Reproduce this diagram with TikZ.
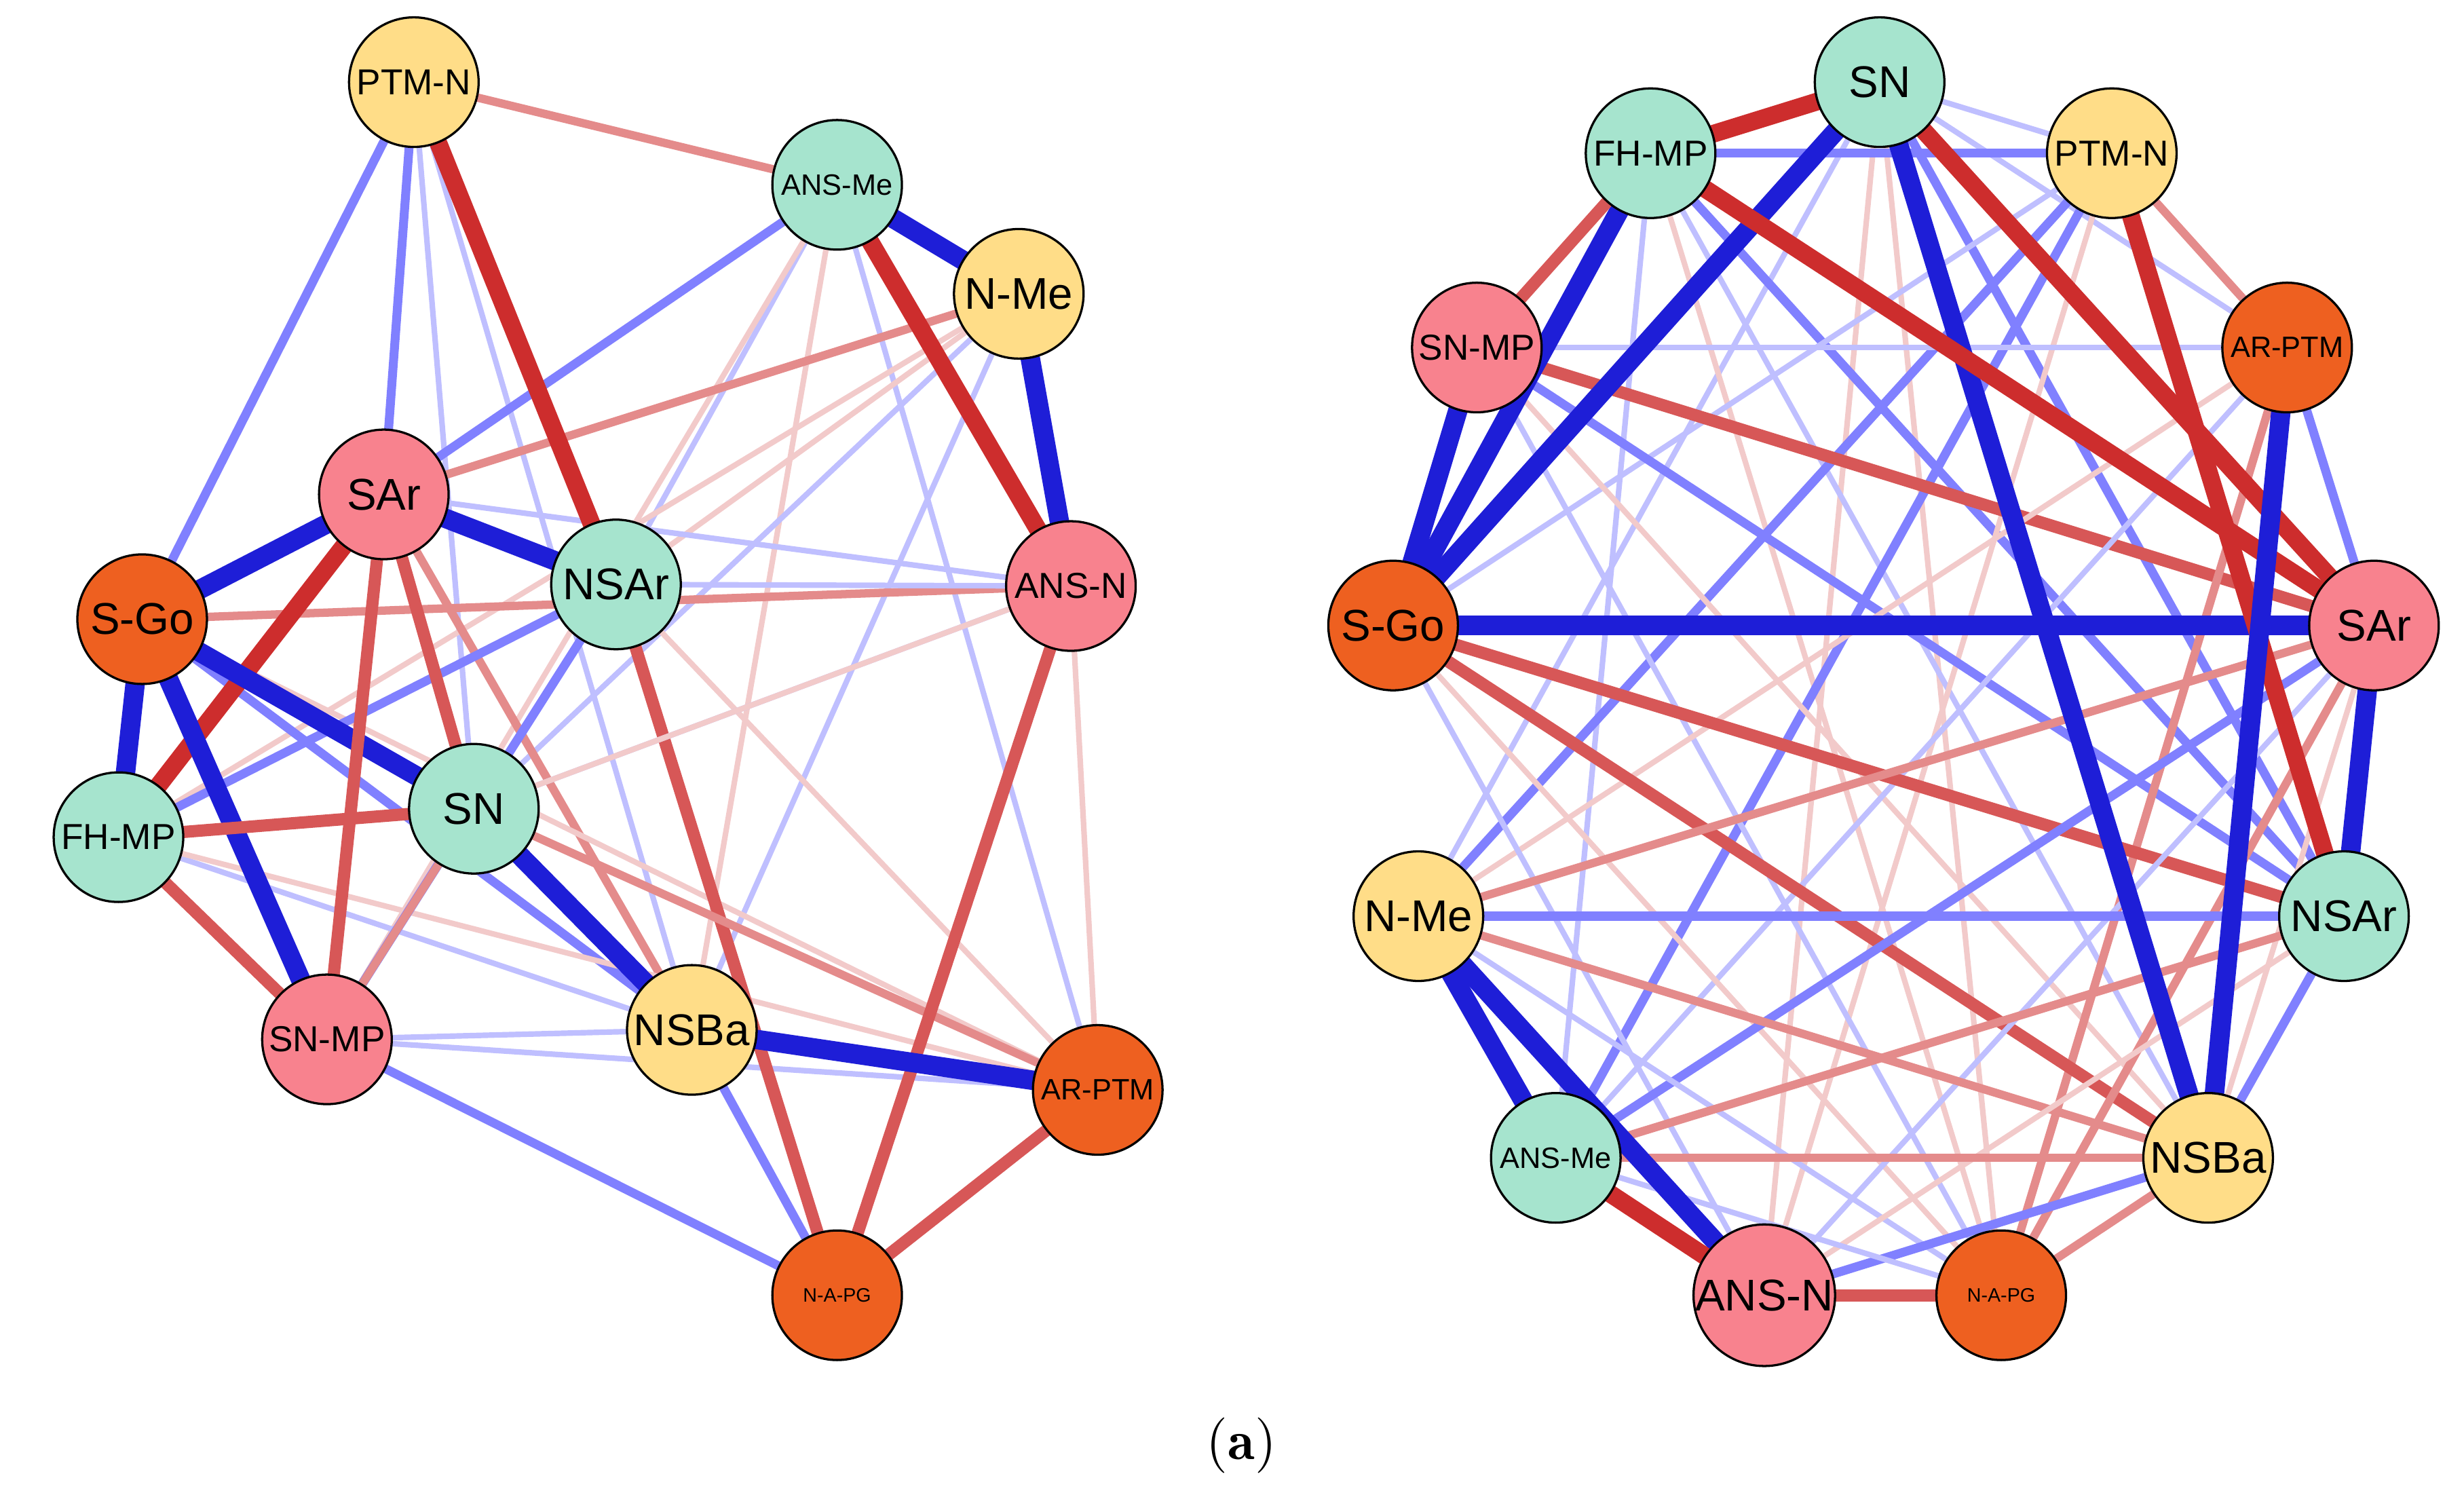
\documentclass[tikz,border=0pt]{standalone}
\usepackage{fontspec}
\setmainfont{Liberation Sans}
\setsansfont{Liberation Sans}
\begin{document}
\begin{tikzpicture}[x=0.01cm,y=-0.01cm,
 nd/.style={circle,draw=black,line width=0.4pt,minimum size=0.82cm,inner sep=0pt,font=\fontsize{8}{8}\selectfont},
 md/.style={font=\fontsize{6.5}{7}\selectfont},
 sm/.style={font=\fontsize{5.3}{6}\selectfont},
 tn/.style={font=\fontsize{3.5}{4}\selectfont},
 gr/.style={nd,fill=grn}, ye/.style={nd,fill=yel}, pk/.style={nd,fill=pnk}, og/.style={nd,fill=org},
 B4/.style={draw=bst,line width=3.5pt},
 B3/.style={draw=blue!75!white,line width=2.4pt},
 B2/.style={draw=blue!50!white,line width=1.6pt},
 B1/.style={draw=blue!25!white,line width=1pt},
 R4/.style={draw=rst,line width=3.2pt},
 R3/.style={draw=rst!80!white,line width=2.2pt},
 R2/.style={draw=rst!55!white,line width=1.5pt},
 R1/.style={draw=rst!25!white,line width=1pt}]
\definecolor{grn}{RGB}{166,228,206}
\definecolor{yel}{RGB}{255,221,136}
\definecolor{pnk}{RGB}{248,130,142}
\definecolor{org}{RGB}{238,96,32}
\definecolor{rst}{RGB}{205,45,45}
\definecolor{bst}{RGB}{30,30,215}
\useasboundingbox (0,0) rectangle (1560,945);
\coordinate (lptm) at (262,52);
\coordinate (lansme) at (530,117);
\coordinate (lnme) at (645,186);
\coordinate (lsar) at (243,313);
\coordinate (lnsar) at (390,370);
\coordinate (lansn) at (678,371);
\coordinate (lsgo) at (90,392);
\coordinate (lsn) at (300,512);
\coordinate (lfh) at (75,530);
\coordinate (lsnmp) at (207,658);
\coordinate (lnsba) at (438,652);
\coordinate (lar) at (695,690);
\coordinate (lnap) at (530,820);
\coordinate (rsn) at (1190,52);
\coordinate (rfh) at (1045,97);
\coordinate (rptm) at (1337,97);
\coordinate (rsnmp) at (935,220);
\coordinate (rar) at (1448,220);
\coordinate (rsgo) at (882,396);
\coordinate (rsar) at (1503,396);
\coordinate (rnme) at (898,580);
\coordinate (rnsar) at (1484,580);
\coordinate (ransme) at (985,733);
\coordinate (rnsba) at (1398,733);
\coordinate (ransn) at (1117,820);
\coordinate (rnap) at (1267,820);
\foreach \s/\a/\b in {
 B1/lptm/lsn, B1/lptm/lnsba, R1/lptm/lsgo, R2/lptm/lansme, B2/lptm/lsar, B2/lptm/lsgo,
 B2/lansme/lsar, B1/lansme/lnsar, R1/lansme/lnsba, B1/lansme/lar, R1/lansme/lsnmp,
 R2/lnme/lsar, R1/lnme/lnsar, B1/lnme/lsn, R1/lnme/lfh, B1/lnme/lnsba,
 B1/lsar/lansn, B2/lsar/lsn, R2/lsar/lnsba, R1/lsar/lsnmp,
 R2/lsgo/lansn, B2/lsgo/lnsba, R1/lsgo/lar,
 B2/lfh/lnsar, B1/lfh/lnsba, R1/lfh/lar,
 B2/lsnmp/lnsar, B2/lsnmp/lsn, B1/lsnmp/lnsba, B1/lsnmp/lar, B2/lsnmp/lnap,
 R1/lnsar/lar, R3/lnsar/lnap, B1/lnsar/lansn,
 R2/lsn/lar, B1/lsn/lansn, R1/lsn/lansn,
 R3/lansn/lnap, R1/lansn/lar, R3/lar/lnap, B2/lnsba/lnap, R2/lsnmp/lsn,
 B1/rsn/rptm, B1/rsn/rnme, R1/rsn/ransn, B2/rsn/rnsar, B1/rsn/rar, R1/rsn/rnap,
 B2/rfh/rnsar, B1/rfh/ransme, R1/rfh/rnap, B2/rfh/rptm, B1/rfh/rnsba,
 B2/rptm/rnme, R1/rptm/ransn, B1/rptm/rsgo, R2/rptm/rar, B2/rptm/ransme,
 B1/rsnmp/rar, R3/rsnmp/rsar, B2/rsnmp/rnsar, B1/rsnmp/rnap, R1/rsnmp/rnsba,
 R1/rar/rnme, B2/rar/rsar, R2/rar/rnap, B1/rar/ransme,
 R3/rsgo/rnsar, R3/rsgo/rnsba, B1/rsgo/ransn, R1/rsgo/rnap,
 R2/rsar/rnme, B2/rsar/ransme, R2/rsar/rnap, B1/rsar/ransn, R1/rsar/rnsba,
 B2/rnme/rnsar, R2/rnme/rnsba, B1/rnme/rnap,
 R2/rnsar/ransme, B2/rnsar/rnsba, R1/rnsar/ransn,
 B2/rnsba/ransn, R2/rnsba/rnap, R2/ransme/rnsba, R3/ransn/rnap, B1/ransme/rnap,
 R4/lptm/lnsar, R4/lansme/lansn, B4/lansme/lnme, B4/lnme/lansn,
 B4/lsgo/lfh, B4/lsar/lsgo, R4/lsar/lfh, B4/lsar/lnsar, B4/lsgo/lsn, B4/lsgo/lsnmp,
 B4/lsn/lnsba, B4/lnsba/lar, R3/lfh/lsnmp, R3/lfh/lsn, R3/lsar/lsn, R3/lsar/lsnmp,
 B4/rsgo/rsar, B4/rsgo/rfh, B4/rsgo/rsn, B4/rsgo/rsnmp, R4/rsn/rfh, B4/rsn/rnsba,
 R4/rfh/rsar, R4/rsn/rsar, R3/rsnmp/rfh, R4/rptm/rnsar, B4/rar/rnsba, B4/rsar/rnsar,
 B4/rnme/ransn, B4/rnme/ransme, R4/ransme/ransn}
 {\path[\s] (\a) -- (\b);}
\node[ye,md] (nlptm) at (lptm) {PTM-N};
\node[gr,sm] (nlansme) at (lansme) {ANS-Me};
\node[ye] (nlnme) at (lnme) {N-Me};
\node[pk] (nlsar) at (lsar) {SAr};
\node[gr] (nlnsar) at (lnsar) {NSAr};
\node[pk,md] (nlansn) at (lansn) {ANS-N};
\node[og] (nlsgo) at (lsgo) {S-Go};
\node[gr] (nlsn) at (lsn) {SN};
\node[gr,md] (nlfh) at (lfh) {FH-MP};
\node[pk,md] (nlsnmp) at (lsnmp) {SN-MP};
\node[ye] (nlnsba) at (lnsba) {NSBa};
\node[og,sm] (nlar) at (lar) {AR-PTM};
\node[og,tn] (nlnap) at (lnap) {N-A-PG};
\node[gr] (nrsn) at (rsn) {SN};
\node[gr,md] (nrfh) at (rfh) {FH-MP};
\node[ye,md] (nrptm) at (rptm) {PTM-N};
\node[pk,md] (nrsnmp) at (rsnmp) {SN-MP};
\node[og,sm] (nrar) at (rar) {AR-PTM};
\node[og] (nrsgo) at (rsgo) {S-Go};
\node[pk] (nrsar) at (rsar) {SAr};
\node[ye] (nrnme) at (rnme) {N-Me};
\node[gr] (nrnsar) at (rnsar) {NSAr};
\node[gr,sm] (nransme) at (ransme) {ANS-Me};
\node[ye] (nrnsba) at (rnsba) {NSBa};
\node[pk] (nransn) at (ransn) {ANS-N};
\node[og,tn] (nrnap) at (rnap) {N-A-PG};
\node[font=\fontfamily{lmr}\fontsize{10}{10}\selectfont] (cap) at (786,915) {(\textbf{a})};
\end{tikzpicture}
\end{document}
